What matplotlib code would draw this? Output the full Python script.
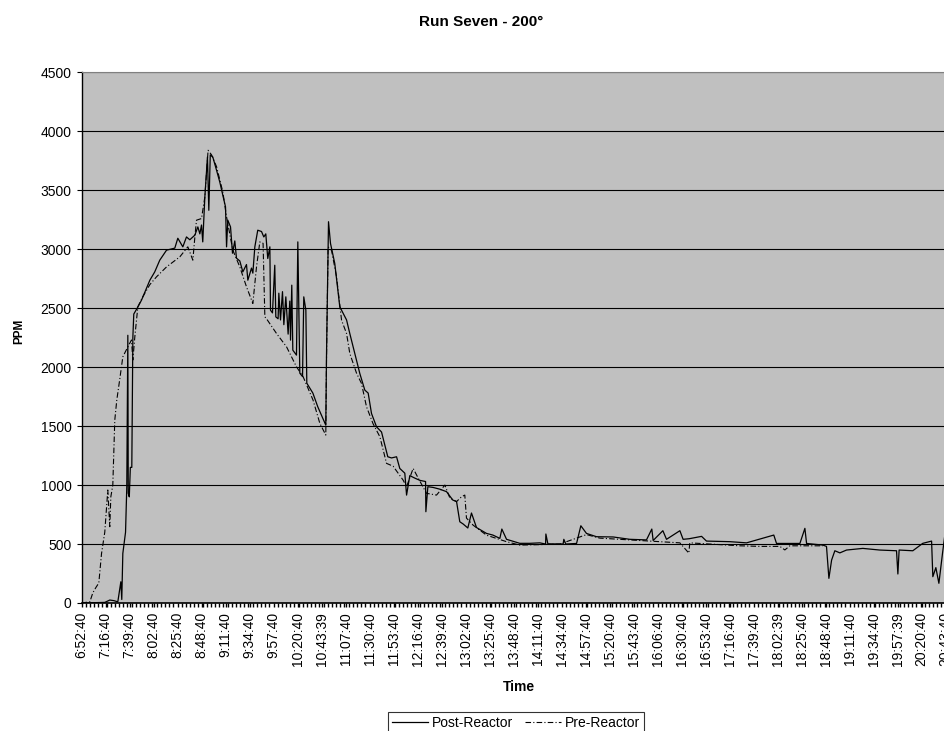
import matplotlib
matplotlib.use("Agg")
import matplotlib.pyplot as plt
from matplotlib.ticker import FixedLocator, MultipleLocator

plt.rcParams['font.family'] = ['Liberation Sans', 'DejaVu Sans']

# sample number (one reading roughly every minute from 6:52:40) and ppm
post_x = [0, 22.3, 27.1, 31.0, 34.8, 36.7, 37.7, 38.6, 39.6, 42.2, 43.4, 44.4, 44.8, 45.8,
          46.8, 48.2, 49.2, 50.1, 54.0, 57.5, 65.5, 70.2, 75.0, 81.5, 89.4, 92.3, 97.1,
          100.6, 103.8, 108.6, 111.5, 113.4, 115.0, 116.2, 118.2, 120.7, 122.0, 123.4,
          125.8, 129.4, 132.5, 135.4, 138.0, 139.0, 140.2, 142.8, 144.7, 146.9, 148.5,
          151.7, 154.6, 158.1, 159.4, 162.9, 164.2, 166.1, 168.9, 172.5, 174.7, 176.6,
          178.5, 180.5, 181.1, 183.0, 185.2, 186.2, 188.4, 189.1, 190.7, 192.6, 193.9,
          195.8, 198.0, 199.6, 200.3, 201.5, 202.5, 206.0, 207.3, 209.2, 211.8, 213.0,
          215.0, 215.9, 221.7, 226.4, 231.5, 234.1, 234.8, 236.7, 238.6, 242.7, 247.5,
          254.0, 257.1, 261.9, 266.7, 271.5, 274.7, 277.9, 282.7, 287.5, 290.7, 293.5,
          297.1, 301.9, 305.0, 309.8, 311.5, 314.6, 319.4, 324.2, 329.7, 330.0, 331.9,
          336.9, 343.4, 349.8, 355.8, 359.4, 362.5, 365.7, 370.2, 373.7, 378.5, 388.1,
          394.2, 400.9, 402.8, 407.3, 420.0, 429.6, 439.2, 444.7, 445.0, 446.9, 461.5,
          462.2, 464.1, 474.4, 478.5, 483.9, 493.5, 509.4, 525.4, 541.4, 546.5, 547.8,
          557.1, 560.6, 573.4, 576.5, 582.3, 594.2, 598.9, 621.3, 637.3, 663.4, 666.0,
          688.4, 693.2, 694.8, 710.4, 713.9, 716.2, 718.8, 721.9, 726.7, 733.1, 748.7,
          765.0, 781.0, 782.3, 783.5, 796.6, 806.2, 814.6, 815.8, 818.7, 821.6, 825.1,
          827.3, 832.1]
post_ppm = [0, 5, 25, 20, 10, 120, 180, 30, 420, 600, 985, 2270, 930, 900,
            1150, 1150, 2250, 2450, 2510, 2568, 2737, 2808, 2907, 2992, 3009, 3093, 3020,
            3104, 3080, 3119, 3189, 3130, 3205, 3062, 3443, 3782, 3330, 3800,
            3782, 3670, 3570, 3458, 3359, 3020, 3246, 3189, 2966, 3070, 2924,
            2900, 2808, 2870, 2737, 2840, 2797, 3020, 3161, 3150, 3104, 3130,
            2921, 3020, 2483, 2460, 2864, 2426, 2410, 2627, 2400, 2640, 2360,
            2596, 2280, 2560, 2229, 2695, 2144, 2102, 3062, 1949, 1920, 2596,
            2483, 1864, 1780, 1664, 1560, 1508, 2116, 3233, 3049, 2879, 2512,
            2400, 2285, 2116, 1946, 1805, 1780, 1607, 1494, 1450, 1339, 1240,
            1230, 1240, 1141, 1101, 915, 1080, 1059, 1040, 1030, 774, 986,
            980, 965, 944, 873, 860, 689, 670, 636, 763, 640, 590,
            576, 548, 627, 540, 506, 506, 510, 500, 585, 502, 500,
            540, 500, 505, 655, 590, 562, 560, 540, 535, 627, 530,
            613, 540, 613, 540, 545, 565, 525, 520, 510, 576, 505,
            505, 633, 505, 491, 480, 209, 364, 443, 425, 449, 463,
            449, 443, 246, 449, 443, 506, 525, 223, 300, 167, 423,
            576, 560]

pre_x = [0, 8.0, 10.8, 13.7, 16.6, 19.2, 22.3, 25.2, 27.1, 28.1, 30.0, 31.9, 33.8, 36.7,
         39.6, 44.4, 47.9, 49.2, 51.1, 54.0, 58.7, 65.5, 71.9, 81.5, 94.2, 101.9, 106.7,
         108.6, 110.2, 115.0, 118.2, 121.3, 124.6, 129.4, 135.4, 139.0, 145.0, 151.7,
         158.1, 164.2, 167.7, 170.9, 174.0, 175.7, 177.3, 186.9, 196.5, 206.0, 212.4,
         221.9, 228.4, 234.1, 234.8, 236.3, 239.6, 244.4, 249.2, 254.0, 257.1, 263.5,
         268.3, 273.1, 279.4, 285.9, 292.3, 298.6, 308.2, 311.5, 317.8, 322.6, 330.6,
         340.2, 348.2, 353.0, 359.4, 364.2, 367.3, 368.9, 375.3, 388.1, 407.3, 420.0,
         439.2, 458.4, 483.9, 496.7, 535.0, 573.4, 582.0, 582.9, 611.7, 630.9, 650.0,
         669.2, 674.0, 678.8, 710.4]
pre_ppm = [0, 10, 85, 130, 170, 420, 600, 958, 647, 900, 1000, 1551, 1720, 1900,
           2087, 2172, 2230, 2060, 2257, 2512, 2596, 2700, 2766, 2850, 2935, 3020, 2907,
           3100, 3246, 3260, 3443, 3839, 3800, 3700, 3486, 3274, 2992, 2850,
           2681, 2540, 2850, 3062, 3050, 2426, 2410, 2285, 2172, 2003, 1918,
           1720, 1523, 1424, 2087, 3020, 2990, 2766, 2398, 2285, 2116, 1950,
           1862, 1664, 1520, 1410, 1184, 1160, 1042, 986, 1141, 1060, 930,
           915, 1000, 890, 860, 901, 915, 720, 660, 575, 520, 491,
           495, 500, 580, 550, 530, 510, 423, 510, 495, 485, 480,
           480, 450, 485, 485]

time_labels = ['6:52:40', '7:16:40', '7:39:40', '8:02:40', '8:25:40', '8:48:40', '9:11:40',
               '9:34:40', '9:57:40', '10:20:40', '10:43:39', '11:07:40', '11:30:40',
               '11:53:40', '12:16:40', '12:39:40', '13:02:40', '13:25:40', '13:48:40',
               '14:11:40', '14:34:40', '14:57:40', '15:20:40', '15:43:40', '16:06:40',
               '16:30:40', '16:53:40', '17:16:40', '17:39:40', '18:02:39', '18:25:40',
               '18:48:40', '19:11:40', '19:34:40', '19:57:39', '20:20:40', '20:43:40']
label_step = 23

fig = plt.figure(figsize=(9.45, 7.31), dpi=100)
ax = fig.add_axes([81.5 / 945, 1 - 603 / 731, (956 - 81.5) / 945, (603 - 72.3) / 731])
ax.set_facecolor('#C0C0C0')

ax.plot(post_x, post_ppm, color='black', lw=0.9, label='Post-Reactor', zorder=3)
ax.plot(pre_x, pre_ppm, color='black', lw=0.8, dashes=(5, 2, 1, 2),
        label='Pre-Reactor', zorder=2)

ax.set_ylim(0, 4500)
ax.set_xlim(0, 838)
ax.yaxis.set_major_locator(MultipleLocator(500))
ax.grid(axis='y', color='black', lw=0.8)
ax.set_axisbelow(True)

ticks = [k * label_step for k in range(len(time_labels))]
ax.xaxis.set_major_locator(FixedLocator(ticks))
ax.set_xticklabels(time_labels, rotation=90, fontsize=10)
ax.xaxis.set_minor_locator(MultipleLocator(4))
ax.tick_params(axis='x', which='both', length=3, width=1, direction='out', pad=3.5)
ax.tick_params(axis='y', length=3.6, width=0.8, pad=3.6, labelsize=10)

for side in ('right', 'bottom'):
    ax.spines[side].set_visible(False)
ax.spines['top'].set_color('#808080')
ax.spines['left'].set_linewidth(1)
ax.axhline(0, color='black', lw=1.2, zorder=4, clip_on=False)

ax.set_xlabel('Time', fontsize=10, fontweight='bold', va='top')
ax.xaxis.set_label_coords(0.5, -0.145)
ax.set_ylabel('PPM', fontsize=8.5, fontweight='bold')
ax.yaxis.set_label_coords(-0.0646, 0.511)

fig.text(481.5 / 945, 1 - 21.7 / 731, 'Run Seven - 200\u00b0', ha='center', va='center',
         fontsize=11, fontweight='bold')

leg = fig.legend(loc='upper center', bbox_to_anchor=(516 / 945, 1 - 711.5 / 731), ncol=2,
                 fontsize=10, frameon=True, fancybox=False, edgecolor='black',
                 borderpad=0.3, borderaxespad=0, handlelength=2.6, columnspacing=0.8,
                 handletextpad=0.3)
leg.get_frame().set_linewidth(0.8)

fig.savefig('out.png', dpi=100)
